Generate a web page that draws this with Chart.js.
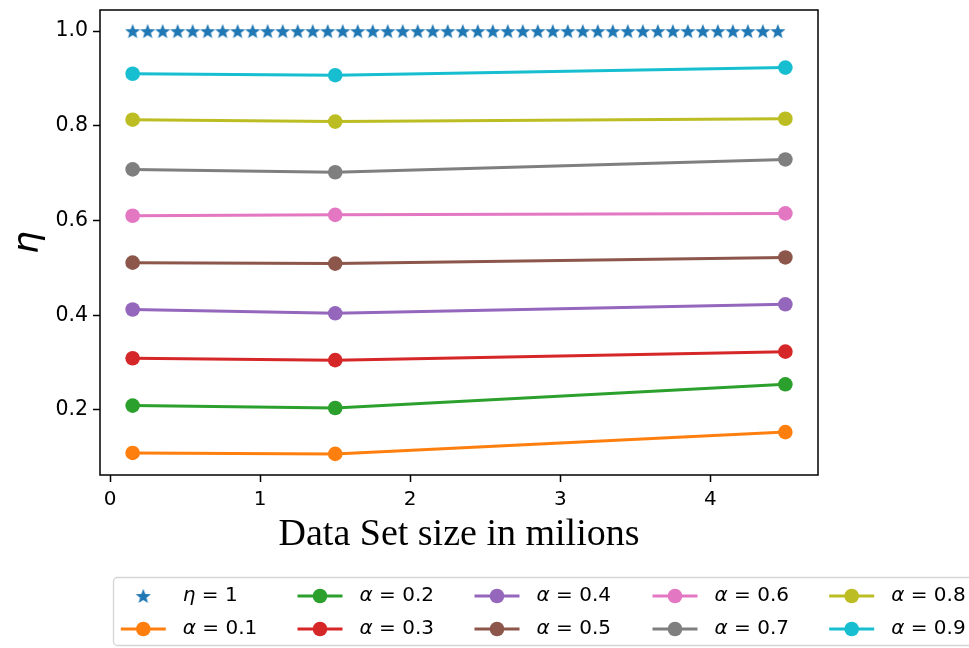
<!DOCTYPE html>
<html>
<head>
<meta charset="utf-8">
<script src="https://cdn.jsdelivr.net/npm/chart.js@4.4.1/dist/chart.umd.min.js"></script>
<style>
  html, body { margin: 0; padding: 0; background: #fff; }
</style>
</head>
<body>
<canvas id="chart" width="969" height="648"></canvas>
<script>
// data
const sizes = [0.15, 1.5, 4.5];
const starX = [0.15, 0.25, 0.35, 0.45, 0.55, 0.65, 0.75, 0.85, 0.95, 1.05, 1.15,
  1.25, 1.35, 1.45, 1.55, 1.65, 1.75, 1.85, 1.95, 2.05, 2.15, 2.25,
  2.35, 2.45, 2.55, 2.65, 2.75, 2.85, 2.95, 3.05, 3.15, 3.25, 3.35,
  3.45, 3.55, 3.65, 3.75, 3.85, 3.95, 4.05, 4.15, 4.25, 4.35, 4.45];
const starY = 1;

const alphaLabels = ['0.1', '0.2', '0.3', '0.4', '0.5', '0.6', '0.7', '0.8', '0.9'];
const alpha01 = [0.109, 0.107, 0.153];
const alpha02 = [0.209, 0.204, 0.254];
const alpha03 = [0.309, 0.305, 0.323];
const alpha04 = [0.412, 0.404, 0.423];
const alpha05 = [0.511, 0.509, 0.522];
const alpha06 = [0.610, 0.612, 0.615];
const alpha07 = [0.708, 0.702, 0.729];
const alpha08 = [0.813, 0.809, 0.815];
const alpha09 = [0.910, 0.907, 0.923];
const alphaSeries = [alpha01, alpha02, alpha03, alpha04, alpha05, alpha06, alpha07, alpha08, alpha09];

const xTicks = [0, 1, 2, 3, 4];
const xTickLabels = ['0', '1', '2', '3', '4'];
const yTicks = [0.2, 0.4, 0.6, 0.8, 1.0];
const yTickLabels = ['0.2', '0.4', '0.6', '0.8', '1.0'];

const colors = ['#ff7f0e', '#2ca02c', '#d62728', '#9467bd', '#8c564b',
  '#e377c2', '#7f7f7f', '#bcbd22', '#17becf'];
const starColor = '#1f77b4';

Chart.defaults.font.family = 'DejaVu Sans';
Chart.defaults.color = '#000';

// filled five point star like matplotlib's '*' marker
function starImage(color, r) {
  const c = document.createElement('canvas');
  const s = Math.ceil(r * 2 + 2);
  c.width = c.height = s;
  const g = c.getContext('2d');
  g.fillStyle = color;
  g.beginPath();
  for (let k = 0; k < 10; k++) {
    const rad = k % 2 ? r * 0.42 : r;
    const a = -Math.PI / 2 + k * Math.PI / 5;
    g.lineTo(s / 2 + rad * Math.cos(a), s / 2 + rad * Math.sin(a) + r * 0.08);
  }
  g.closePath();
  g.fill();
  return c;
}
const star = starImage(starColor, 8);

const datasets = [{
  label: 'η = 1',
  data: starX.map(x => ({ x: x, y: starY })),
  showLine: false,
  pointStyle: star,
  borderColor: starColor,
  backgroundColor: starColor,
}];
alphaSeries.forEach((vals, i) => {
  datasets.push({
    label: 'α = ' + alphaLabels[i],
    data: sizes.map((x, j) => ({ x: x, y: vals[j] })),
    borderColor: colors[i],
    backgroundColor: colors[i],
    borderWidth: 3,
    pointRadius: 7.3,
    pointBorderWidth: 0,
    tension: 0,
  });
});

const framePlugin = {
  id: 'frame',
  afterDraw(chart) {
    const { ctx, chartArea: a } = chart;
    ctx.save();
    ctx.strokeStyle = '#000';
    ctx.lineWidth = 1.5;
    ctx.strokeRect(a.left, a.top, a.right - a.left, a.bottom - a.top);
    ctx.restore();
  }
};

// matplotlib style legend: 5 columns, filled column by column
const legendPlugin = {
  id: 'mplLegend',
  afterDraw(chart) {
    const ctx = chart.ctx;
    const cols = [143.3, 320, 497, 675, 851.7];
    const rows = [596, 629];
    ctx.save();
    ctx.beginPath();
    ctx.roundRect(113.5, 577.5, 880, 68, 4);
    ctx.fillStyle = '#fff';
    ctx.fill();
    ctx.strokeStyle = '#d5d5d5';
    ctx.lineWidth = 1.3;
    ctx.stroke();
    chart.data.datasets.forEach((ds, i) => {
      const x = cols[Math.floor(i / 2)];
      const y = rows[i % 2];
      if (ds.showLine !== false) {
        ctx.strokeStyle = ds.borderColor;
        ctx.lineWidth = 3;
        ctx.beginPath();
        ctx.moveTo(x - 22.5, y);
        ctx.lineTo(x + 22.5, y);
        ctx.stroke();
        ctx.fillStyle = ds.backgroundColor;
        ctx.beginPath();
        ctx.arc(x, y, 7.3, 0, Math.PI * 2);
        ctx.fill();
      } else {
        ctx.drawImage(ds.pointStyle, x - ds.pointStyle.width / 2, y - ds.pointStyle.height / 2);
      }
      const greek = ds.label.charAt(0);
      const rest = ds.label.slice(1);
      ctx.fillStyle = '#000';
      ctx.textBaseline = 'middle';
      ctx.textAlign = 'left';
      ctx.font = 'italic 20px "DejaVu Sans"';
      ctx.fillText(greek, x + 39.5, y);
      const w = ctx.measureText(greek).width;
      ctx.font = '20px "DejaVu Sans"';
      ctx.fillText(rest, x + 39.5 + w, y);
    });
    ctx.restore();
  }
};

new Chart(document.getElementById('chart'), {
  type: 'line',
  data: { datasets: datasets },
  options: {
    responsive: false,
    animation: false,
    layout: { padding: { left: 0, top: 10, right: 151, bottom: 0 } },
    scales: {
      x: {
        type: 'linear',
        min: -0.0675,
        max: 4.7175,
        afterBuildTicks: s => { s.ticks = xTicks.map(v => ({ value: v })); },
        afterFit: s => { s.height = 173; s.paddingLeft = 0; s.paddingRight = 0; },
        ticks: {
          font: { size: 20 },
          padding: 6,
          maxRotation: 0,
          callback: (v, i) => xTickLabels[i],
        },
        grid: {
          drawOnChartArea: false,
          drawTicks: true,
          tickLength: 7,
          tickColor: '#000',
          tickWidth: 1.5,
        },
        border: { display: false },
        title: {
          display: true,
          text: 'Data Set size in milions',
          font: { family: 'Liberation Serif', size: 38 },
          padding: { top: 0, bottom: 90 },
        },
      },
      y: {
        type: 'linear',
        min: 0.0624,
        max: 1.0447,
        afterBuildTicks: s => { s.ticks = yTicks.map(v => ({ value: v })); },
        afterFit: s => { s.width = 100; s.paddingTop = 0; s.paddingBottom = 0; },
        ticks: {
          font: { size: 20.5 },
          padding: 5,
          callback: (v, i) => yTickLabels[i],
        },
        grid: {
          drawOnChartArea: false,
          drawTicks: true,
          tickLength: 7,
          tickColor: '#000',
          tickWidth: 1.5,
        },
        border: { display: false },
        title: {
          display: true,
          text: 'η',
          font: { family: 'DejaVu Sans', style: 'italic', size: 36 },
          padding: { top: 7, bottom: 0 },
        },
      },
    },
    plugins: {
      legend: { display: false },
      tooltip: { enabled: false },
    },
  },
  plugins: [framePlugin, legendPlugin],
});
</script>
</body>
</html>
